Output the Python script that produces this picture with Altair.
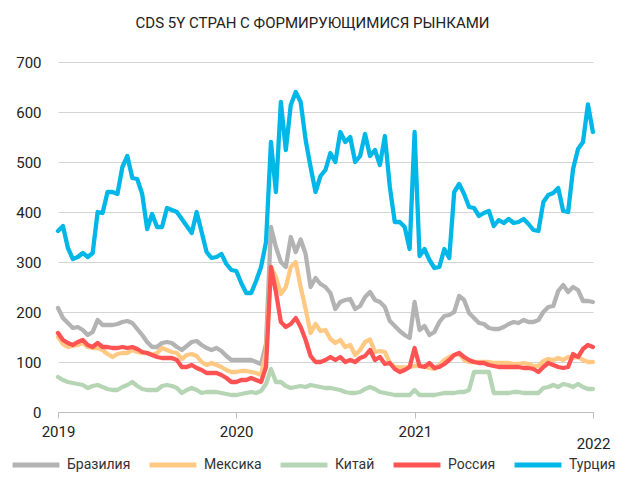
import altair as alt
import pandas as pd

title_text = "CDS 5Y СТРАН С ФОРМИРУЮЩИМИСЯ РЫНКАМИ"
countries = ["Бразилия", "Мексика", "Китай", "Россия", "Турция"]
colors = ["#b3b3b3", "#ffc983", "#b5d5b5", "#ff5353", "#00b7e8"]
year_ticks = ["2019-01-01", "2020-01-01", "2021-01-01", "2022-01-01"]

# observations every 1/36 year from 2019-01-01 (approx. every 10 days)
brazil = [208, 188, 178, 168, 170, 164, 154, 160, 184, 174, 174, 174, 176, 180, 182, 178, 166, 154, 140, 130,
          130, 138, 140, 138, 130, 124, 132, 140, 142, 134, 128, 124, 128, 122, 112, 104, 104, 104, 104, 104,
          100, 96, 136, 370, 330, 300, 290, 350, 320, 345, 316, 250, 268, 256, 250, 238, 206, 220, 224, 226,
          206, 212, 230, 240, 224, 220, 210, 182, 172, 162, 154, 148, 220, 164, 172, 154, 160, 180, 192, 194,
          200, 232, 224, 198, 188, 178, 176, 168, 166, 166, 170, 176, 180, 178, 184, 180, 180, 184, 200, 210,
          212, 242, 254, 240, 250, 244, 222, 222, 220]
mexico = [150, 136, 130, 132, 134, 138, 130, 128, 128, 124, 116, 110, 116, 118, 118, 124, 120, 118, 118, 114,
          118, 128, 124, 120, 118, 106, 114, 116, 112, 100, 94, 98, 94, 90, 84, 80, 80, 82, 82, 80,
          78, 74, 120, 290, 270, 236, 250, 290, 300, 250, 206, 158, 176, 162, 164, 146, 138, 144, 130, 134,
          114, 124, 140, 145, 120, 122, 120, 98, 90, 89, 89, 90, 92, 92, 92, 88, 86, 94, 104, 110,
          114, 116, 104, 100, 100, 100, 100, 100, 98, 98, 98, 98, 96, 96, 98, 96, 92, 92, 102, 106,
          104, 108, 104, 110, 108, 110, 104, 100, 100]
china = [70, 64, 60, 58, 56, 54, 48, 52, 54, 50, 46, 44, 44, 50, 54, 60, 52, 46, 44, 44,
         44, 52, 54, 52, 48, 38, 44, 48, 44, 38, 40, 40, 40, 38, 36, 34, 34, 36, 38, 40,
         38, 42, 56, 86, 60, 60, 52, 48, 50, 52, 50, 54, 52, 50, 48, 48, 46, 44, 40, 38,
         38, 40, 46, 50, 46, 40, 38, 36, 34, 34, 34, 34, 44, 34, 34, 34, 34, 36, 38, 38,
         38, 40, 40, 44, 80, 80, 80, 80, 38, 38, 38, 38, 40, 40, 38, 38, 38, 38, 48, 50,
         54, 50, 56, 54, 50, 56, 50, 46, 46]
russia = [158, 144, 138, 134, 140, 144, 134, 130, 138, 130, 130, 128, 128, 130, 128, 130, 126, 120, 118, 114,
          110, 108, 108, 108, 104, 90, 90, 94, 88, 84, 78, 78, 78, 74, 68, 60, 60, 64, 64, 68,
          64, 60, 90, 290, 240, 180, 170, 176, 188, 170, 144, 112, 100, 100, 104, 110, 104, 110, 100, 104,
          100, 108, 112, 124, 104, 110, 96, 98, 86, 80, 84, 90, 128, 92, 90, 98, 88, 90, 96, 104,
          114, 118, 110, 104, 100, 98, 98, 94, 92, 90, 90, 90, 90, 90, 88, 88, 86, 80, 90, 98,
          94, 90, 88, 90, 116, 110, 126, 134, 130]
turkey = [362, 372, 328, 306, 310, 318, 310, 318, 400, 398, 440, 440, 436, 490, 512, 468, 466, 436, 366, 396,
          370, 370, 408, 404, 400, 386, 372, 358, 400, 360, 320, 308, 310, 316, 296, 284, 282, 258, 238, 238,
          262, 290, 340, 540, 440, 620, 524, 614, 640, 620, 544, 490, 440, 472, 484, 518, 500, 560, 540, 550,
          500, 512, 556, 512, 524, 494, 552, 450, 380, 380, 370, 326, 560, 312, 326, 304, 288, 290, 326, 308,
          440, 456, 436, 410, 408, 392, 398, 402, 372, 384, 378, 386, 378, 380, 386, 376, 364, 362, 420, 434,
          438, 448, 402, 400, 486, 526, 540, 615, 560]

series = [brazil, mexico, china, russia, turkey]
start = pd.Timestamp("2019-01-01")
rows = []
for name, vals in zip(countries, series):
    for i, v in enumerate(vals):
        rows.append({"date": start + pd.to_timedelta(i * 365.25 / 36, unit="D"),
                     "country": name, "value": v})
df = pd.DataFrame(rows)

color_scale = alt.Scale(domain=countries, range=colors)
x_enc = alt.X("date:T", scale=alt.Scale(domain=[year_ticks[0], year_ticks[-1]]),
              axis=alt.Axis(values=year_ticks, format="%Y", title=None, grid=False,
                            domain=True, domainColor="#bdbdbd", ticks=True, tickSize=6,
                            tickColor="#bdbdbd", labelFontSize=15, labelColor="#222222",
                            labelPadding={"condition": {"test": "year(datum.value) == 2022", "value": 18},
                                          "value": 6},
                            labelFlush=False, labelOverlap=False))
y_enc = alt.Y("value:Q", scale=alt.Scale(domain=[0, 700]),
              axis=alt.Axis(values=[0, 100, 200, 300, 400, 500, 600, 700], title=None, grid=True,
                            gridColor="#d4d4d4", domain=False, ticks=False, labelFontSize=15,
                            labelColor="#222222", labelPadding=17))

layers = []
for name in countries:
    layers.append(
        alt.Chart(df).transform_filter(alt.datum.country == name).mark_line(
            strokeWidth=4.3, strokeJoin="round", strokeCap="round"
        ).encode(
            x=x_enc, y=y_enc,
            color=alt.Color("country:N", scale=color_scale,
                            legend=alt.Legend(title=None, orient="none", legendX=-48, legendY=377,
                                              direction="horizontal", symbolType="stroke",
                                              symbolStrokeWidth=5, symbolSize=2200,
                                              labelFontSize=14, labelColor="#333333",
                                              columnPadding=8, labelOffset=5, padding=0)),
        )
    )

chart = alt.layer(*layers).properties(
    width=535, height=350,
    title=alt.TitleParams(title_text, fontSize=15, fontWeight="normal", color="#222222",
                          font="Roboto", anchor="middle", dx=-13, offset=24),
    autosize=alt.AutoSizeParams(type="none"),
    padding={"left": 50, "top": 54, "right": 26, "bottom": 61},
).configure(font="Roboto").configure_view(stroke=None)

chart.save("out.html", embed_options={"renderer": "svg", "actions": False})
